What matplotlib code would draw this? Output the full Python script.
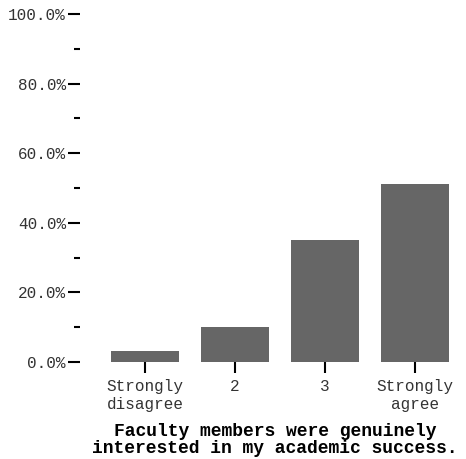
import matplotlib.pyplot as plt
from matplotlib.ticker import MultipleLocator, FuncFormatter

# data
categories = ["Strongly\ndisagree", "2", "3", "Strongly\nagree"]
percent = [3.2, 10.2, 35.0, 51.1]
title = "Faculty members were genuinely\ninterested in my academic success."

plt.rcParams["font.family"] = ["Liberation Mono", "DejaVu Sans Mono"]

fig = plt.figure(figsize=(4.66, 4.59), dpi=100)
ax = fig.add_axes([80 / 466, 1 - 362 / 459, 1 - 80 / 466, (362 - 14) / 459])

x = list(range(len(categories)))
ax.bar(x, percent, width=0.756, color="#666666")

ax.set_xlim(-0.722, 3.567)
ax.set_ylim(0, 100)

ax.set_xticks(x)
ax.set_xticklabels(categories, fontsize=11.5, color="#333333", linespacing=1.3)
ax.yaxis.set_major_locator(MultipleLocator(20))
ax.yaxis.set_minor_locator(MultipleLocator(10))
ax.yaxis.set_major_formatter(FuncFormatter(lambda v, p: f"{v:.1f}%"))
ax.tick_params(axis="y", which="major", length=8.6, width=1.5, pad=1.5,
               labelsize=11.5, labelcolor="#333333")
ax.tick_params(axis="y", which="minor", length=4.5, width=1.5)
ax.tick_params(axis="x", length=8, width=1.5, pad=4)

for s in ax.spines.values():
    s.set_visible(False)

fig.text(0.59, 1 - 440 / 459, title, ha="center", va="center",
         fontsize=13, fontweight="bold", linespacing=1.05)

fig.savefig("out.png", dpi=100, facecolor="white")
